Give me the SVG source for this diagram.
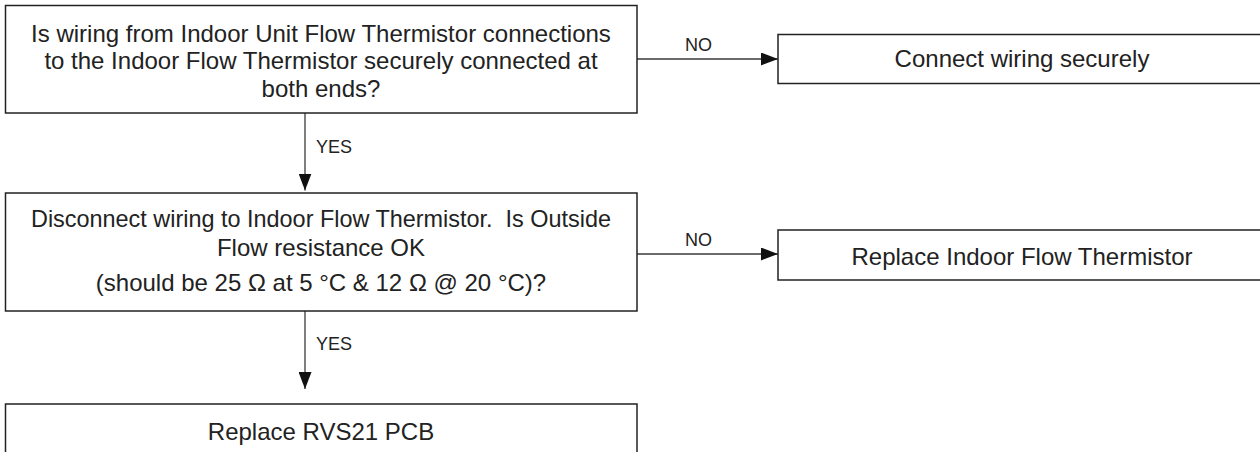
<svg xmlns="http://www.w3.org/2000/svg" width="1260" height="452" viewBox="0 0 1260 452">
<style>
.box{fill:#fff;stroke:#222;stroke-width:1.5}
.t{font-family:"Liberation Sans",Arial,sans-serif;font-size:24px;fill:#222;text-anchor:middle}
.lbl{font-family:"Liberation Sans",Arial,sans-serif;font-size:18px;fill:#222}
.c{stroke:#3a3a3a;stroke-width:1.3;fill:none}
</style>
<defs>
<marker id="ah" markerUnits="userSpaceOnUse" markerWidth="18" markerHeight="13" refX="17" refY="6.5" orient="auto">
<path d="M0,0 L17,6.5 L0,13 Z" fill="#111"/>
</marker>
</defs>
<rect width="1260" height="452" fill="#fff"/>
<g id="connectors">
<path class="c" d="M305,113 V190.5" marker-end="url(#ah)"/>
<path class="c" d="M637,59 H778" marker-end="url(#ah)"/>
<path class="c" d="M637,254 H778" marker-end="url(#ah)"/>
<path class="c" d="M305,311 V389" marker-end="url(#ah)"/>
<text class="lbl" x="316" y="153">YES</text>
<text class="lbl" x="685" y="50.5">NO</text>
<text class="lbl" x="685" y="246">NO</text>
<text class="lbl" x="316" y="350">YES</text>
</g>
<g id="q1">
<rect class="box" x="5.5" y="5.5" width="631.5" height="107.5"/>
<text class="t" x="321" y="41.5">Is wiring from Indoor Unit Flow Thermistor connections</text>
<text class="t" x="321" y="69">to the Indoor Flow Thermistor securely connected at</text>
<text class="t" x="321" y="96.5">both ends?</text>
</g>
<g id="a1">
<rect class="box" x="778" y="34.5" width="490" height="49"/>
<text class="t" x="1022" y="66.5">Connect wiring securely</text>
</g>
<g id="q2">
<rect class="box" x="5.5" y="193" width="631.5" height="118"/>
<text class="t" x="321" y="226.5" textLength="580" lengthAdjust="spacingAndGlyphs">Disconnect wiring to Indoor Flow Thermistor.&#160; Is Outside</text>
<text class="t" x="321" y="256">Flow resistance OK</text>
<text class="t" x="321" y="291">(should be 25 Ω at 5 °C &amp; 12 Ω @ 20 °C)?</text>
</g>
<g id="a2">
<rect class="box" x="778" y="230" width="490" height="50"/>
<text class="t" x="1022" y="265">Replace Indoor Flow Thermistor</text>
</g>
<g id="a3">
<rect class="box" x="5.5" y="404" width="631.5" height="60"/>
<text class="t" x="321" y="440">Replace RVS21 PCB</text>
</g>
</svg>
